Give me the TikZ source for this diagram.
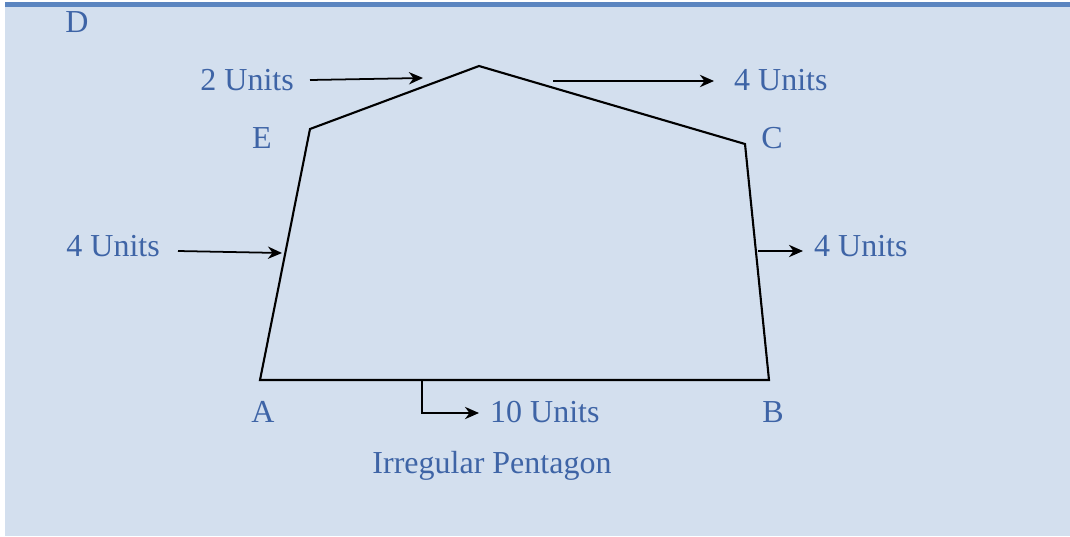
\documentclass[tikz,border=0pt]{standalone}
\usepackage{fontspec}
\setmainfont{Liberation Serif}
\usetikzlibrary{arrows.meta}
\definecolor{panelbg}{HTML}{D3DFEE}
\definecolor{panelline}{HTML}{5B85C0}
\definecolor{labelblue}{HTML}{3E64A6}
\begin{document}
\begin{tikzpicture}[
    x=0.01cm, y=-0.01cm,
    font=\fontsize{9.1}{10}\selectfont,
    vertex/.style={text=labelblue},
    unitlabel/.style={text=labelblue, inner sep=1pt},
    pointer/.style={-{Stealth[length=4pt, width=3.5pt]}, line width=0.5pt}
]
    % Panel background and top rule
    \useasboundingbox (0,0) rectangle (1070,536);
    \fill[panelbg] (5,3) rectangle (1070,536);
    \draw[panelline, line width=1.2pt] (5,4.5) -- (1070,4.5);

    % Pentagon corners
    \coordinate (a) at (260,380);
    \coordinate (b) at (769,380);
    \coordinate (c) at (745,144);
    \coordinate (d) at (479,66);
    \coordinate (e) at (310,129);
    \draw[line width=0.6pt, line join=miter] (a) -- (b) -- (c) -- (d) -- (e) -- cycle;

    % Corner letters
    \node[vertex] (lblD) at (77,22) {D};
    \node[vertex] (lblE) at (262,138) {E};
    \node[vertex] (lblC) at (772,138) {C};
    \node[vertex] (lblA) at (263,412) {A};
    \node[vertex] (lblB) at (773,412) {B};

    % Side length labels
    \node[unitlabel, anchor=east] (topleft) at (298,80) {2 Units};
    \coordinate (topleftTip) at (423,78);
    \draw[pointer] (topleft.east) ++(12,0) -- (topleftTip);

    \coordinate (toprightTail) at (553,81);
    \node[unitlabel, anchor=west] (topright) at (730,80) {4 Units};
    \draw[pointer] (toprightTail) -- ([xshift=-0.16cm]topright.west |- toprightTail);

    \node[unitlabel, anchor=east] (leftside) at (164,246) {4 Units};
    \coordinate (leftTip) at (282,253);
    \draw[pointer] (178,251) -- (leftTip);

    \coordinate (rightTail) at (758,251);
    \node[unitlabel, anchor=west] (rightside) at (810,246) {4 Units};
    \draw[pointer] (rightTail) -- ([xshift=-0.07cm]rightside.west |- rightTail);

    \coordinate (baseTap) at (422,380);
    \node[unitlabel, anchor=west] (base) at (486,412) {10 Units};
    \draw[pointer] (baseTap) |- ([xshift=-0.07cm]base.west |- 0,413);

    % Caption
    \node[vertex] (caption) at (492,466) {Irregular Pentagon};
\end{tikzpicture}
\end{document}
